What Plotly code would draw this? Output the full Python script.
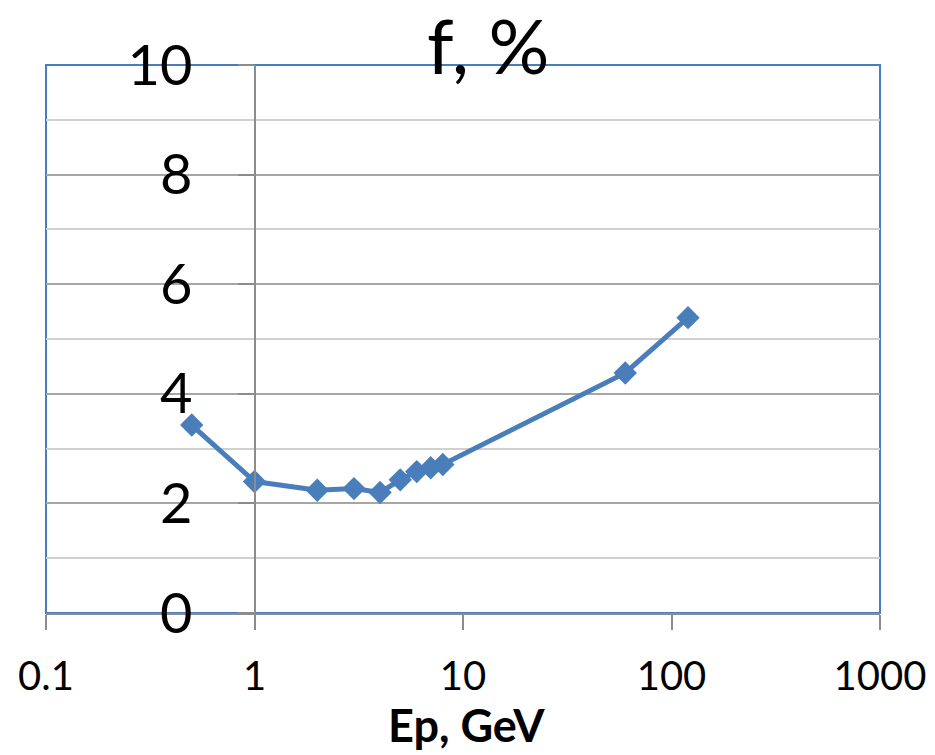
import plotly.graph_objects as go

ep = [0.5, 1, 2, 3, 4, 5, 6, 7, 8, 60, 120]
f_pct = [3.43, 2.40, 2.24, 2.27, 2.20, 2.43, 2.58, 2.65, 2.71, 4.38, 5.39]

x_tickvals = [0.1, 1, 10, 100, 1000]
x_ticktext = ["0.1", "1", "10", "100", "1000"]
y_tickvals = [0, 2, 4, 6, 8, 10]

FONT = "Lato, Open Sans, sans-serif"
BLUE = "#4A7EBB"

fig = go.Figure()
fig.add_trace(go.Scatter(
    x=ep, y=f_pct, mode="lines+markers",
    line=dict(color=BLUE, width=5),
    marker=dict(symbol="diamond", size=18, color=BLUE),
    showlegend=False,
))

fig.update_layout(
    width=935, height=755,
    margin=dict(l=46, r=55, t=65, b=142),
    paper_bgcolor="white", plot_bgcolor="white",
    font=dict(family=FONT, color="black"),
    xaxis=dict(
        type="log", range=[-1, 3], automargin=False,
        tickvals=x_tickvals, ticktext=x_ticktext,
        showgrid=False, zeroline=False,
        showline=True, linecolor="#8C8C8C", linewidth=2,
        ticks="outside", ticklen=15, tickcolor="#8C8C8C", tickwidth=1.5,
        tickfont=dict(size=40, family=FONT),
        ticklabelstandoff=12,
    ),
    yaxis=dict(
        range=[0, 10], tickvals=y_tickvals, automargin=False,
        anchor="free", position=0.25,
        showgrid=True, gridcolor="#A6A6A6", gridwidth=1.5,
        zeroline=False,
        showline=True, linecolor="#8C8C8C", linewidth=1.5,
        ticks="outside", ticklen=16, tickcolor="#8C8C8C", tickwidth=1.5,
        tickfont=dict(size=56, family=FONT),
        ticklabelstandoff=34,
        minor=dict(dtick=1, showgrid=True, gridcolor="#D0D0D0", gridwidth=1.5, ticks=""),
    ),
    shapes=[dict(type="rect", xref="paper", yref="paper", x0=0, y0=0, x1=1, y1=1,
                 line=dict(color=BLUE, width=2), layer="below")],
    annotations=[
        dict(text="f, %", xref="paper", yref="paper", x=(488 - 46) / 834, y=(613 - 45) / 548,
             xanchor="center", yanchor="middle", showarrow=False,
             font=dict(size=76, family=FONT)),
        dict(text="<b>Ep, GeV</b>", xref="paper", yref="paper", x=(466 - 46) / 834, y=(613 - 725) / 548,
             xanchor="center", yanchor="middle", showarrow=False,
             font=dict(size=45, family=FONT)),
    ],
)

fig.write_html("out.html")
